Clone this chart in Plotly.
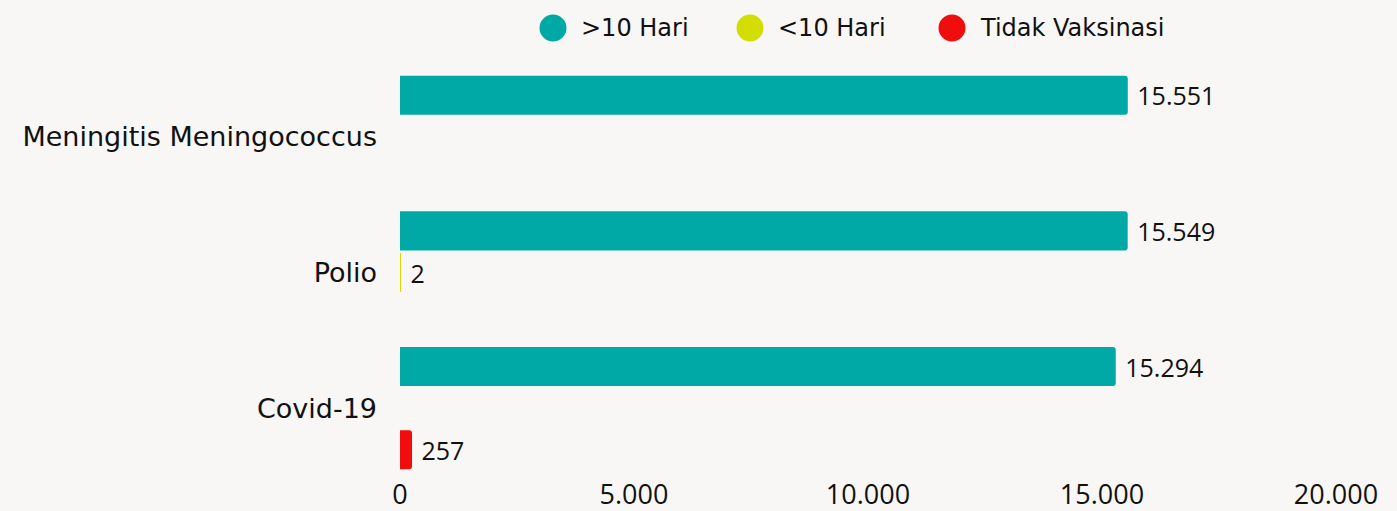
import plotly.graph_objects as go

categories = ["Meningitis Meningococcus", "Polio", "Covid-19"]
series_names = [">10 Hari", "<10 Hari", "Tidak Vaksinasi"]
over10 = [15551, 15549, 15294]
under10 = [None, 2, None]
no_vax = [None, None, 257]
colors = ["#01A9A6", "#D3DE00", "#F00D0D"]
x_ticks = [0, 5000, 10000, 15000, 20000]

BG = "#f8f7f5"
W, H = 1397, 511
ML, MR, MT, MB = 400, 61, 69, 35
PW, PH = W - ML - MR, H - MT - MB

fig = go.Figure()
for name, vals, col in zip(series_names, [over10, under10, no_vax], colors):
    fig.add_trace(go.Bar(
        y=categories, x=vals, name=name, orientation="h",
        marker=dict(color=col, line=dict(width=0)),
        texttemplate=" %{x:,}", textposition="outside",
        textfont=dict(family="Open Sans", size=25, color="#111"),
        cliponaxis=False, showlegend=False,
    ))

# custom legend (large circles) placed in pixel positions
legend_px = [553, 750, 952]
legend_py = 28
for name, col, px in zip(series_names, colors, legend_px):
    xp = (px - ML) / PW
    yp = (H - MB - legend_py) / PH
    fig.add_shape(type="circle", xref="paper", yref="paper",
                  xsizemode="pixel", ysizemode="pixel", xanchor=xp, yanchor=yp,
                  x0=-13.5, x1=13.5, y0=-13.5, y1=13.5,
                  fillcolor=col, line=dict(width=0))
    fig.add_annotation(text=name, xref="paper", yref="paper", x=xp, y=yp,
                       xshift=26, xanchor="left", yanchor="middle", showarrow=False,
                       font=dict(family="DejaVu Sans", size=24, color="#111"))

fig.update_layout(
    width=W, height=H,
    margin=dict(l=ML, r=MR, t=MT, b=MB),
    paper_bgcolor=BG, plot_bgcolor="rgba(0,0,0,0)",
    barmode="group", bargap=0.08, bargroupgap=0.06, barcornerradius=3,
    separators=",.",
    showlegend=False,
    font=dict(family="DejaVu Sans", size=27, color="#111"),
    xaxis=dict(range=[0, 20000], tickvals=x_ticks, tickformat=",d", showgrid=False,
               zeroline=False, showline=False, ticklabelstandoff=0, automargin=False,
               tickfont=dict(family="Open Sans", size=27, color="#111")),
    yaxis=dict(autorange="reversed", showgrid=False, zeroline=False, showline=False,
               ticklabelstandoff=22, automargin=False, tickfont=dict(size=27)),
)
fig.write_html(
    "out.html",
    config={"displayModeBar": False},
    post_script="document.body.style.margin='0';document.body.style.background='%s';" % BG,
)
